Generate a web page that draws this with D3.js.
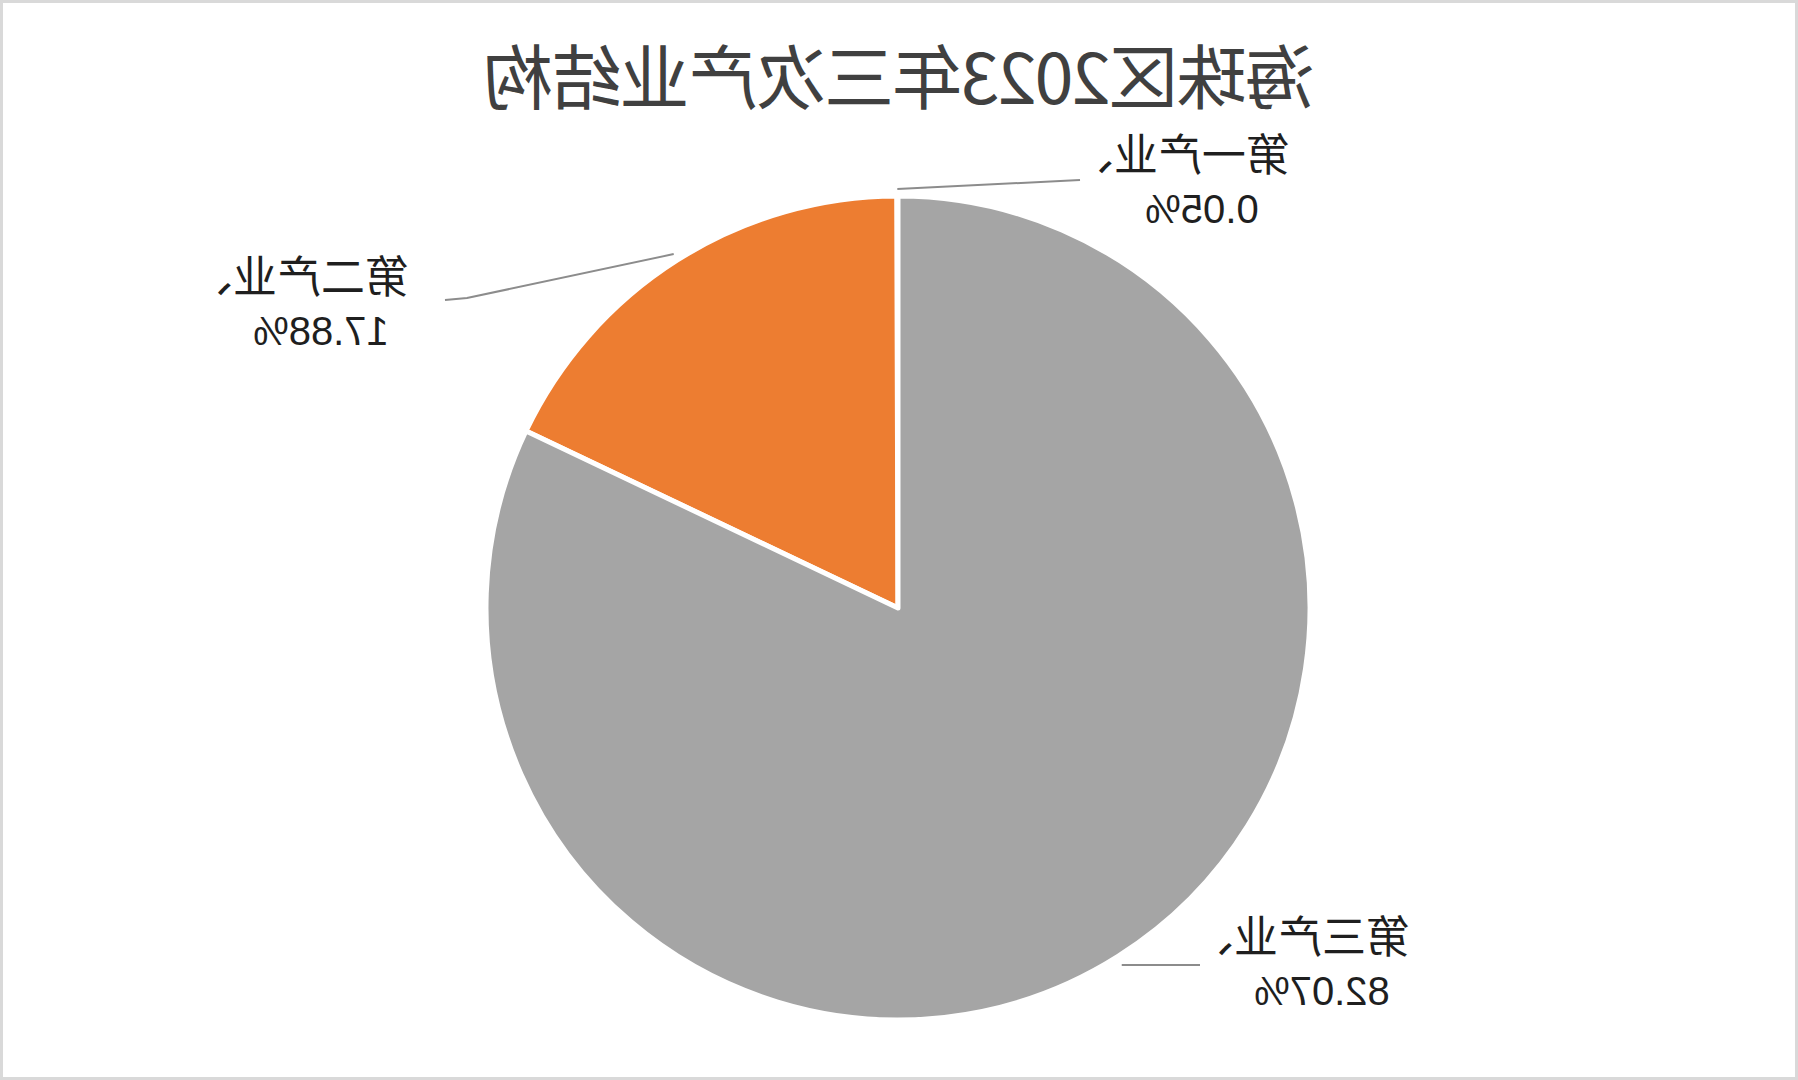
<!DOCTYPE html>
<html>
<head>
<meta charset="utf-8">
<script src="https://cdn.jsdelivr.net/npm/d3@7"></script>
<style>
  html, body { margin: 0; padding: 0; background: #ffffff; }
  svg { display: block; }
</style>
</head>
<body>
<script>
// ---- data ----
const title = "海珠区2023年三次产业结构";
const categories = ["第一产业", "第二产业", "第三产业"];
const values = [0.05, 17.88, 82.07];
const valueLabels = ["0.05%", "17.88%", "82.07%"];
const colors = ["#5B9BD5", "#ED7D31", "#A5A5A5"];

// ---- layout ----
const W = 1798, H = 1080;
const cx = 900, cy = 608, R = 412;
// label anchor positions (center x, first baseline) and leader end points
const labelPos = [
  { x: 618, y: 171, lx: 718, ly: 180 },
  { x: 1499, y: 293, lx: 1353, ly: 300 },
  { x: 498, y: 953, lx: 598, ly: 965 }
];

const svg = d3.select("body").append("svg")
  .attr("width", W).attr("height", H);

// The reference is a horizontally mirrored rendering
const root = svg.append("g")
  .attr("transform", `translate(${W},0) scale(-1,1)`);

root.append("rect")
  .attr("x", 1.5).attr("y", 1.5)
  .attr("width", W - 3).attr("height", H - 3)
  .attr("fill", "#ffffff")
  .attr("stroke", "#d9d9d9").attr("stroke-width", 3);

root.append("text")
  .attr("x", cx - 2).attr("y", 104)
  .attr("text-anchor", "middle")
  .attr("font-family", "'Noto Sans CJK SC', sans-serif")
  .attr("font-size", 70)
  .attr("letter-spacing", -1.8)
  .attr("fill", "#404040")
  .text(title);

const pie = d3.pie().sort(null).value(d => d)(values);
const arc = d3.arc().innerRadius(0).outerRadius(R);

const g = root.append("g").attr("transform", `translate(${cx},${cy})`);
g.selectAll("path").data(pie).join("path")
  .attr("d", arc)
  .attr("fill", (d, i) => colors[i])
  .attr("stroke", "#ffffff")
  .attr("stroke-width", 5)
  .attr("stroke-linejoin", "round");

// leader lines
pie.forEach((d, i) => {
  const a = (d.startAngle + d.endAngle) / 2;
  const r0 = R + 7;
  const sx = cx + Math.sin(a) * r0, sy = cy - Math.cos(a) * r0;
  const p = labelPos[i];
  const dir = p.lx < sx ? 1 : -1;
  const pts = i === 2
    ? [[sx, p.ly], [p.lx, p.ly]]
    : i === 0
      ? [[sx, sy], [p.lx, p.ly]]
      : [[sx, sy], [p.lx + dir * 22, p.ly - 2], [p.lx, p.ly]];
  root.append("path")
    .attr("d", d3.line()(pts))
    .attr("fill", "none")
    .attr("stroke", "#8c8c8c")
    .attr("stroke-width", 2);
});

// labels
pie.forEach((d, i) => {
  const p = labelPos[i];
  const t = root.append("text")
    .attr("text-anchor", "middle")
    .attr("fill", "#1f1f1f");
  t.append("tspan")
    .attr("x", p.x).attr("y", p.y)
    .attr("font-family", "'Noto Sans CJK SC', sans-serif")
    .attr("font-size", 44)
    .text(categories[i] + "、");
  t.append("tspan")
    .attr("x", p.x - 22).attr("y", p.y + 52)
    .attr("font-family", "'Liberation Sans', Arial, sans-serif")
    .attr("font-size", 40)
    .text(valueLabels[i]);
});
</script>
</body>
</html>
